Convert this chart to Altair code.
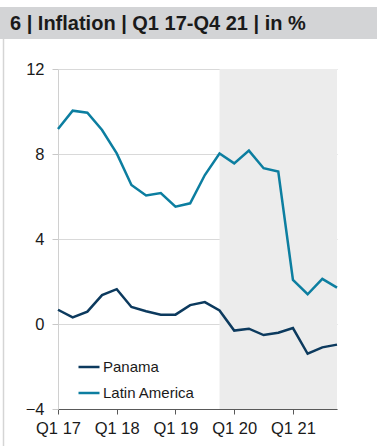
import altair as alt
import pandas as pd

quarters = ["Q1 17","Q2 17","Q3 17","Q4 17","Q1 18","Q2 18","Q3 18","Q4 18",
            "Q1 19","Q2 19","Q3 19","Q4 19","Q1 20","Q2 20","Q3 20","Q4 20",
            "Q1 21","Q2 21","Q3 21","Q4 21"]
panama = [0.67, 0.31, 0.58, 1.36, 1.64, 0.80, 0.60, 0.44, 0.44, 0.89,
          1.03, 0.64, -0.31, -0.22, -0.52, -0.41, -0.19, -1.40, -1.10, -0.97]
latam = [9.18, 10.04, 9.94, 9.13, 8.03, 6.54, 6.05, 6.16, 5.52, 5.68,
         7.01, 8.02, 7.56, 8.16, 7.33, 7.17, 2.07, 1.40, 2.12, 1.71]
series_names = ["Panama", "Latin America"]
series_colors = ["#0c3a5e", "#0c7ea0"]
shade_start, shade_end = 11, 19
y_ticks = [-4, 0, 4, 8, 12]
x_ticks = [0, 4, 8, 12, 16]
title_text = "6 | Inflation | Q1 17-Q4 21 | in %"

rows = []
for i, q in enumerate(quarters):
    rows.append({"i": i, "q": q, "series": "Panama", "v": panama[i]})
    rows.append({"i": i, "q": q, "series": "Latin America", "v": latam[i]})
df = pd.DataFrame(rows)

label_expr = "{" + ",".join(f"'{k}':'{quarters[k]}'" for k in x_ticks) + "}[datum.value]"

FONT = "Liberation Sans"

xscale = alt.Scale(domain=[0, 19], nice=False, zero=False)
yscale = alt.Scale(domain=[-4, 12], nice=False)

shade = alt.Chart(pd.DataFrame({"a": [shade_start], "b": [shade_end]})).mark_rect(
    color="#ececec").encode(
    x=alt.X("a:Q", scale=xscale, axis=alt.Axis(
        values=x_ticks, labelExpr=label_expr, grid=False, title=None,
        labelOverlap=False, labelFlush=False,
        domainColor="#595959", domainWidth=1, tickColor="#595959", tickSize=5,
        labelFont=FONT, labelFontSize=16.5, labelColor="#1a1a1a", labelPadding=6)),
    x2="b:Q",
    y=alt.value(0), y2=alt.value(340))

lines = alt.Chart(df).mark_line(strokeWidth=2.5).encode(
    x=alt.X("i:Q", scale=xscale),
    y=alt.Y("v:Q", scale=yscale, axis=alt.Axis(
        values=y_ticks, title=None, grid=True, gridColor="#d9d9d9",
        labelOverlap=False, labelFlush=False,
        domainColor="#d0d0d0", tickColor="#c8c8c8", tickSize=6,
        labelFont=FONT, labelFontSize=16.5, labelColor="#1a1a1a", labelPadding=8)),
    color=alt.Color("series:N", scale=alt.Scale(domain=series_names, range=series_colors),
                    legend=alt.Legend(title=None, orient="none", legendX=19, legendY=286,
                                      symbolType="stroke", symbolSize=441,
                                      symbolStrokeWidth=2.5, labelFont=FONT,
                                      labelFontSize=15, labelColor="#1a1a1a",
                                      labelOffset=2, rowPadding=6)),
    order="i:Q")

title_bar = alt.Chart(pd.DataFrame({"t": [title_text]})).mark_rect(color="#d3d4d6").encode(
    x=alt.value(-58), x2=alt.value(319), y=alt.value(-62), y2=alt.value(-30))
border = alt.Chart(pd.DataFrame({"t": [title_text]})).mark_rule(color="#d5d5d5", strokeWidth=1.5).encode(
    x=alt.value(-54.5), y=alt.value(-30), y2=alt.value(377))
title = alt.Chart(pd.DataFrame({"t": [title_text]})).mark_text(
    align="left", baseline="alphabetic", font=FONT, fontSize=20, fontWeight="bold",
    color="#1a1a1a").encode(x=alt.value(-48), y=alt.value(-39), text="t:N")

chart = alt.layer(shade, lines, title_bar, border, title).properties(
    width=279, height=340,
    padding={"left": 58, "top": 69, "right": 40, "bottom": 37},
    autosize=alt.AutoSizeParams(type="none"),
    background="white"
).configure_view(stroke=None)

chart.save("out.html", embed_options={"renderer": "svg", "actions": False})
